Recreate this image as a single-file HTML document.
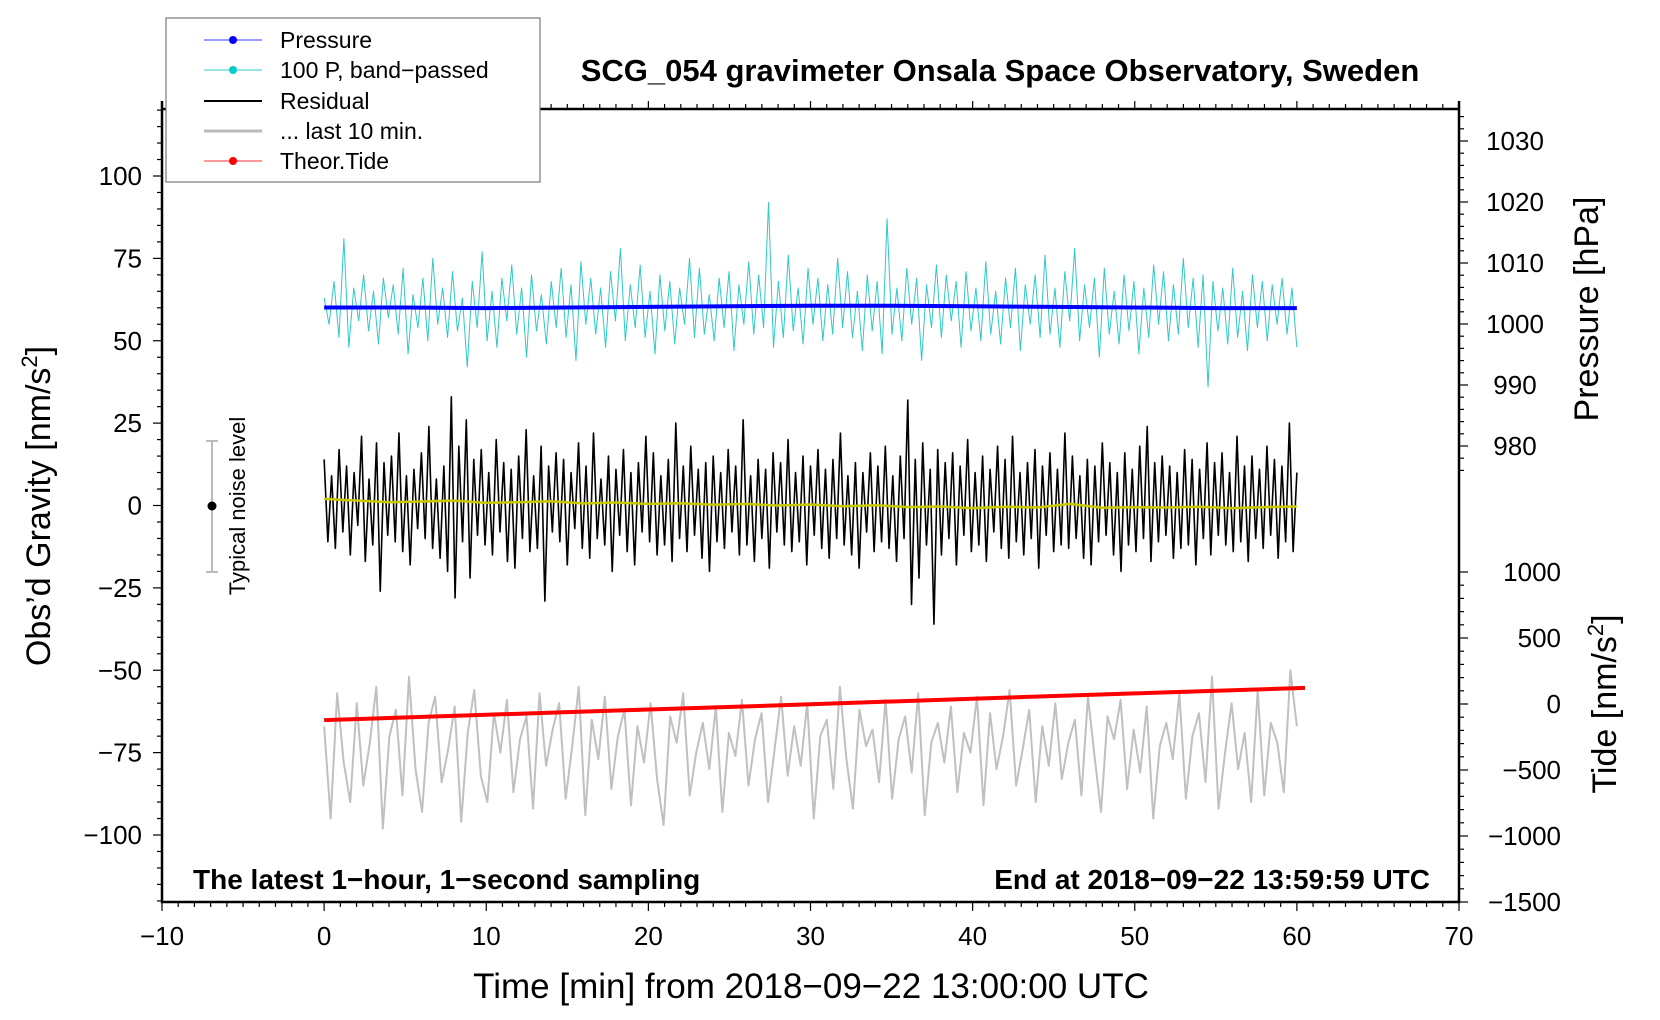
<!DOCTYPE html>
<html><head><meta charset="utf-8"><style>
html,body{margin:0;padding:0;background:#fff}
svg{display:block;font-family:"Liberation Sans",Arial,sans-serif}
</style></head><body>
<svg id="chart" width="1660" height="1020" viewBox="0 0 1660 1020" xmlns="http://www.w3.org/2000/svg">
<g id="series"></g>
<g id="axes"></g>
<text x="1000" y="81" font-size="31" font-weight="bold" text-anchor="middle">SCG_054 gravimeter Onsala Space Observatory, Sweden</text>
<text x="811" y="998" font-size="35" text-anchor="middle">Time [min] from 2018−09−22 13:00:00 UTC</text>
<text transform="translate(50,506) rotate(-90)" font-size="34" text-anchor="middle">Obs’d Gravity [nm/s<tspan font-size="22" dy="-13">2</tspan><tspan dy="13">]</tspan></text>
<text transform="translate(1598,309) rotate(-90)" font-size="34" text-anchor="middle">Pressure [hPa]</text>
<text transform="translate(1616,704) rotate(-90)" font-size="34" text-anchor="middle">Tide [nm/s<tspan font-size="22" dy="-13">2</tspan><tspan dy="13">]</tspan></text>
<text x="193" y="889" font-size="28" font-weight="bold">The latest 1−hour, 1−second sampling</text>
<text x="1430" y="889" font-size="28" font-weight="bold" text-anchor="end">End at 2018−09−22 13:59:59 UTC</text>
<g>
<line x1="212" x2="212" y1="441" y2="572" stroke="#bbb" stroke-width="2"/>
<line x1="206" x2="218" y1="441" y2="441" stroke="#bbb" stroke-width="2"/>
<line x1="206" x2="218" y1="572" y2="572" stroke="#bbb" stroke-width="2"/>
<circle cx="212" cy="506" r="4.5" fill="#000"/>
<text transform="translate(245,506) rotate(-90)" font-size="22" text-anchor="middle">Typical noise level</text>
</g>
<g>
<rect x="166" y="18" width="374" height="164" fill="#fff" stroke="#777" stroke-width="1.2"/>
<g><line x1="204" x2="262" y1="40" y2="40" stroke="#33f" stroke-width="1"/><circle cx="233" cy="40" r="4" fill="#00f"/><text x="280" y="48" font-size="23">Pressure</text></g>
<g><line x1="204" x2="262" y1="70" y2="70" stroke="#3cc" stroke-width="1"/><circle cx="233" cy="70" r="4" fill="#0cc"/><text x="280" y="78" font-size="23">100 P, band−passed</text></g>
<g><line x1="204" x2="262" y1="101" y2="101" stroke="#000" stroke-width="2"/><text x="280" y="109" font-size="23">Residual</text></g>
<g><line x1="204" x2="262" y1="131" y2="131" stroke="#bbb" stroke-width="3"/><text x="280" y="139" font-size="23">... last 10 min.</text></g>
<g><line x1="204" x2="262" y1="161" y2="161" stroke="#f33" stroke-width="1"/><circle cx="233" cy="161" r="4" fill="#f00"/><text x="280" y="169" font-size="23">Theor.Tide</text></g>
</g>
</svg>
<script>
const xTicks=[-10,0,10,20,30,40,50,60,70];
const gravTicks=[-100,-75,-50,-25,0,25,50,75,100];
const pressTicks=[980,990,1000,1010,1020,1030];
const tideTicks=[-1500,-1000,-500,0,500,1000];
const pressureVals=[1002.7,1002.7,1002.6,1002.7,1002.8,1002.9,1003.0,1003.0,1002.9,1002.8,1002.7,1002.6,1002.6];
const tideTimes=[0,10,20,30,40,50,60.5];
const tideVals=[-122,-82,-42,-2,40,80,122];
const cyanVals=[3,-5,8,-9,21,-12,6,-4,10,-7,5,-11,9,-3,7,-8,12,-14,4,-6,9,-10,15,-5,6,-9,11,-7,3,-18,8,-6,17,-10,5,-12,9,-4,13,-8,6,-15,10,-7,4,-11,8,-6,12,-9,7,-16,14,-5,9,-8,6,-12,11,-4,18,-10,7,-6,13,-9,5,-14,10,-7,8,-11,6,-5,15,-9,12,-8,4,-10,9,-6,11,-13,7,-5,14,-8,10,-6,32,-12,8,-9,16,-7,6,-11,12,-5,9,-10,7,-8,15,-6,11,-9,5,-13,10,-7,8,-14,27,-8,6,-10,12,-5,9,-16,7,-6,13,-9,10,-4,8,-12,11,-7,6,-10,14,-8,5,-11,9,-6,12,-13,7,-5,10,-9,16,-8,6,-12,11,-4,18,-10,7,-6,9,-15,12,-8,5,-11,10,-7,8,-14,6,-9,13,-5,11,-10,7,-8,15,-6,9,-12,10,-24,8,-7,6,-11,12,-9,5,-13,10,-6,8,-10,7,-5,9,-8,6,-12];
const residualVals=[14,-11,9,-13,17,-8,12,-15,10,-6,21,-17,8,-12,19,-26,13,-9,15,-11,22,-14,9,-18,11,-7,16,-10,24,-13,8,-16,12,-20,33,-28,18,-11,26,-22,14,-9,17,-12,10,-15,20,-8,13,-17,11,-19,15,-10,23,-14,9,-13,18,-29,12,-8,16,-11,14,-18,10,-7,19,-13,12,-16,22,-10,8,-12,15,-20,11,-9,17,-14,10,-18,13,-8,21,-11,16,-15,9,-12,14,-17,25,-10,12,-14,18,-9,11,-16,13,-20,15,-11,10,-13,17,-8,12,-15,26,-12,9,-17,14,-10,11,-19,16,-8,13,-12,20,-14,10,-11,15,-18,12,-9,17,-13,11,-16,14,-10,22,-12,9,-15,13,-19,10,-8,16,-14,12,-11,18,-13,9,-17,15,-10,32,-30,14,-22,19,-12,11,-36,17,-15,13,-10,16,-18,12,-9,20,-14,10,-12,15,-17,11,-8,18,-13,14,-16,21,-11,10,-15,13,-10,17,-19,12,-9,16,-14,11,-12,22,-13,15,-10,9,-16,14,-18,12,-11,19,-9,13,-15,10,-20,16,-12,11,-14,18,-10,24,-17,13,-11,15,-9,12,-16,10,-13,17,-12,14,-18,11,-10,19,-15,13,-9,16,-12,10,-14,21,-11,12,-17,15,-10,11,-13,18,-9,14,-16,12,-11,25,-14,10];
const smoothVals=[2,1.5,1,1.2,1.5,0.8,1,1.3,0.6,0.9,0.5,0.7,0.2,0.5,0,0.3,-0.2,0.1,-0.5,-0.3,-0.8,-0.4,-0.6,0.5,-0.7,-0.5,-0.6,-0.4,-0.8,-0.5,-0.3];
const last10Vals=[-67,-95,-57,-78,-90,-60,-85,-72,-55,-98,-70,-62,-88,-52,-80,-93,-66,-58,-84,-74,-61,-96,-69,-56,-82,-90,-63,-75,-59,-87,-71,-64,-92,-57,-79,-68,-60,-89,-73,-55,-94,-65,-77,-58,-86,-70,-62,-91,-67,-78,-60,-83,-97,-64,-72,-57,-88,-75,-66,-80,-61,-93,-69,-76,-59,-85,-71,-63,-90,-74,-58,-82,-67,-79,-60,-95,-70,-65,-86,-55,-77,-92,-62,-73,-68,-84,-59,-89,-71,-64,-81,-57,-94,-72,-66,-78,-61,-87,-69,-75,-58,-91,-63,-80,-70,-56,-85,-74,-62,-90,-67,-79,-60,-83,-72,-65,-88,-58,-76,-93,-64,-71,-59,-86,-68,-81,-61,-95,-73,-66,-77,-57,-89,-70,-63,-84,-52,-92,-75,-60,-80,-69,-90,-56,-88,-66,-72,-87,-50,-67];
const NS='http://www.w3.org/2000/svg';
const L=162,R=1459,T=109,B=902;
const xs=t=>L+(t+10)/80*(R-L);
const yg=v=>505.5-v*(659/200);
const yp=p=>446-(p-980)*6.1;
const yt=v=>704-v*(66/500);
const series=document.getElementById('series'),axes=document.getElementById('axes');
function mk(tag,attrs,parent){const e=document.createElementNS(NS,tag);for(const k in attrs)e.setAttribute(k,attrs[k]);parent.appendChild(e);return e;}
function poly(vals,tOf,yOf,stroke,w,name){
  const pts=vals.map((v,i)=>xs(tOf(i))+','+yOf(v).toFixed(1)).join(' ');
  const p=mk('polyline',{points:pts,fill:'none',stroke:stroke,'stroke-width':w,'stroke-linejoin':'round'},series);
  
  
  return p;
}
const span=n=>i=>i/(n-1)*60;
poly(last10Vals,span(last10Vals.length),yg,'#c0c0c0',2,'last-10-min-line');
poly(cyanVals,span(cyanVals.length),v=>yg(60+v),'#30c8c8',1,'bandpassed-pressure-line');
poly(residualVals,span(residualVals.length),yg,'#000',1.6,'residual-line');
poly(smoothVals,span(smoothVals.length),yg,'#c8c800',2.5,'residual-smoothed-line');
poly(pressureVals,span(pressureVals.length),yp,'#0000ff',4,'pressure-line');
const tl=mk('polyline',{points:tideVals.map((v,i)=>xs(tideTimes[i])+','+yt(v).toFixed(1)).join(' '),fill:'none',stroke:'#ff0000','stroke-width':4},series);


mk('path',{d:`M${L},${T-8}V${B}H${R}V${T-8}`,fill:'none',stroke:'#000','stroke-width':2.5},axes);
mk('line',{x1:L,x2:R,y1:T,y2:T,stroke:'#000','stroke-width':2.5},axes);
function lab(x,y,s,anchor,name){const t=mk('text',{x:x,y:y,'font-size':26,'text-anchor':anchor},axes);t.textContent=s;}
const fmt=v=>String(v).replace('-','−');
for(let t=-10;t<=70;t++){const x=xs(t),maj=t%10===0;
  mk('line',{x1:x,x2:x,y1:B,y2:B+(maj?9:5),stroke:'#000','stroke-width':1.2},axes);
  mk('line',{x1:x,x2:x,y1:T,y2:T-(maj?8:5),stroke:'#000','stroke-width':1.2},axes);}
xTicks.forEach(t=>lab(xs(t),B+43,fmt(t),'middle','x-tick-label'));
for(let v=-120;v<=120;v+=5){const y=yg(v),maj=v%25===0;
  mk('line',{x1:L,x2:L-(maj?9:5),y1:y,y2:y,stroke:'#000','stroke-width':1.2},axes);}
gravTicks.forEach(v=>lab(L-20,yg(v)+9,fmt(v),'end','gravity-tick-label'));
for(let p=976;p<=1036;p+=2){const y=yp(p);if(y<T)continue;const maj=p%10===0;
  mk('line',{x1:R,x2:R+(maj?9:5),y1:y,y2:y,stroke:'#000','stroke-width':1.2},axes);}
pressTicks.forEach(p=>lab(R+56,yp(p)+9,p,'middle','pressure-tick-label'));
for(let v=-1500;v<=1000;v+=100){const y=yt(v),maj=v%500===0;
  mk('line',{x1:R,x2:R+(maj?9:5),y1:y,y2:y,stroke:'#000','stroke-width':1.2},axes);}
tideTicks.forEach(v=>lab(R+102,yt(v)+9,fmt(v),'end','tide-tick-label'));
</script>
</body></html>
